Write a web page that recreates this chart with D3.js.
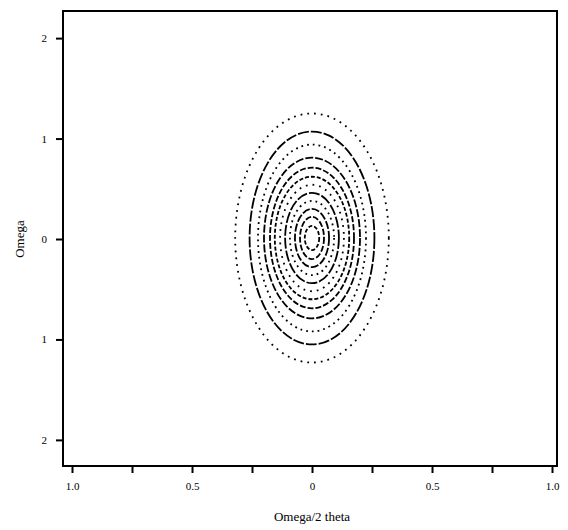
<!DOCTYPE html>
<html>
<head>
<meta charset="utf-8">
<script src="https://cdn.jsdelivr.net/npm/d3@7"></script>
<style>
  body { margin: 0; background: #fff; }
  svg { display: block; }
</style>
</head>
<body>
<div id="chart"></div>
<script>
// axis ticks and labels
const xTicks = [-1, -0.75, -0.5, -0.25, 0, 0.25, 0.5, 0.75, 1];
const xTickLabels = {'-1': '1.0', '-0.5': '0.5', '0': '0', '0.5': '0.5', '1': '1.0'};
const yTicks = [2, 1, 0, -1, -2];
const yTickLabels = ['2', '1', '0', '1', '2'];

// contour ellipses, outer to inner: half-widths (x units) and half-heights (y units)
const contourRx = [0.32, 0.26, 0.225, 0.2, 0.175, 0.155, 0.133, 0.112, 0.092, 0.071, 0.05, 0.03];
const contourRy = [1.24, 1.06, 0.93, 0.8, 0.7, 0.61, 0.53, 0.45, 0.37, 0.29, 0.21, 0.12];
const contourCx = 0;
const contourCy = 0.01;

const width = 568;
const height = 530;
const frame = {left: 63, right: 557, top: 11, bottom: 466};

const x = d3.scaleLinear().domain([-1.0375, 1.0208]).range([frame.left, frame.right]);
const y = d3.scaleLinear().domain([2.27, -2.26]).range([frame.top, frame.bottom]);

const svg = d3.select('#chart').append('svg')
    .attr('width', width)
    .attr('height', height)
    .style('font-family', '"Liberation Serif", "DejaVu Serif", serif');

// contours: alternate dotted / near-solid strokes
const dashes = ['1.8,5', '11,2', '1.8,4', '8,2', '6,2', '4,2'];
const contours = contourRx.map((rx, i) => ({rx, ry: contourRy[i], i}));

svg.append('g')
  .selectAll('ellipse')
  .data(contours)
  .join('ellipse')
    .attr('cx', x(contourCx))
    .attr('cy', y(contourCy))
    .attr('rx', d => x(contourCx + d.rx) - x(contourCx))
    .attr('ry', d => y(contourCy - d.ry) - y(contourCy))
    .attr('fill', 'none')
    .attr('stroke', '#000')
    .attr('stroke-width', 1.8)
    .attr('stroke-dasharray', d => dashes[d.i % dashes.length]);

// frame
svg.append('rect')
    .attr('x', frame.left)
    .attr('y', frame.top)
    .attr('width', frame.right - frame.left)
    .attr('height', frame.bottom - frame.top)
    .attr('fill', 'none')
    .attr('stroke', '#000')
    .attr('stroke-width', 2);

// x axis
const xAxis = d3.axisBottom(x)
    .tickValues(xTicks)
    .tickSize(7)
    .tickPadding(9)
    .tickFormat(d => xTickLabels[String(d)] || '');

svg.append('g')
    .attr('transform', `translate(0,${frame.bottom})`)
    .call(xAxis)
    .call(g => g.select('.domain').remove())
    .call(g => g.selectAll('line').attr('stroke-width', 2))
    .call(g => g.selectAll('text').attr('font-size', 11).attr('font-family', '"Liberation Serif", serif'));

// y axis
const yAxis = d3.axisLeft(y)
    .tickValues(yTicks)
    .tickSize(7)
    .tickPadding(9)
    .tickFormat((d, i) => yTickLabels[i]);

svg.append('g')
    .attr('transform', `translate(${frame.left},0)`)
    .call(yAxis)
    .call(g => g.select('.domain').remove())
    .call(g => g.selectAll('line').attr('stroke-width', 2))
    .call(g => g.selectAll('text').attr('font-size', 11).attr('font-family', '"Liberation Serif", serif'));

// axis titles
svg.append('text')
    .attr('x', x(0))
    .attr('y', 521)
    .attr('text-anchor', 'middle')
    .attr('font-size', 13)
    .text('Omega/2 theta');

svg.append('text')
    .attr('transform', `translate(24,${y(0)}) rotate(-90)`)
    .attr('text-anchor', 'middle')
    .attr('font-size', 13)
    .text('Omega');
</script>
</body>
</html>
